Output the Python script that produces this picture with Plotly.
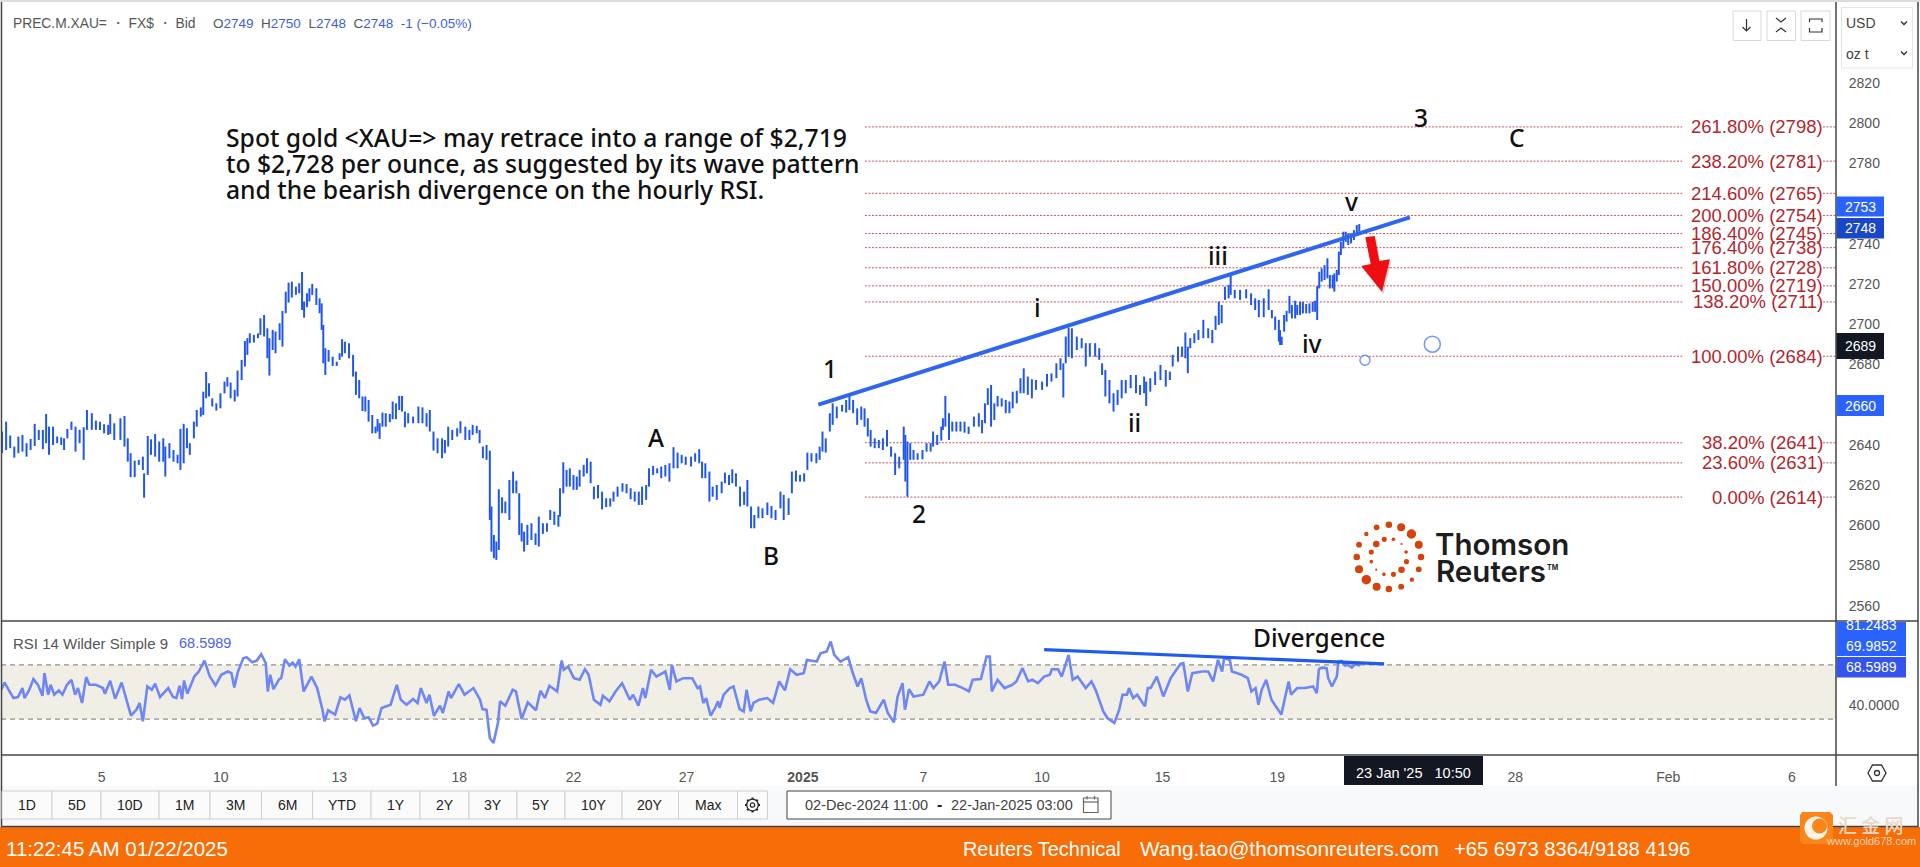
import plotly.graph_objects as go

W, H = 1920, 867

# ---------- DATA ----------
# time unit: 15-minute slots of the trading calendar
bar_slot = [5,15,25,35,45,55,65,75,85,95,105,113,120,130,140,150,157,165,175,185,195,205,213,225,235,245,255,265,270,280,295,305,313,320,330,340,350,353,362,370,380,390,400,405,415,425,435,442,450,458,465,475,482,492,498,505,512,520,530,540,550,557,565,575,582,592,600,606,612,622,632,638,647,655,660,668,675,685,692,700,707,715,725,733,740,745,752,758,765,775,783,788,792,797,805,815,825,832,838,845,855,865,872,880,888,895,903,912,920,925,930,937,945,955,962,970,978,985,992,1000,1012,1025,1035,1045,1053,1062,1072,1083,1090,1098,1108,1120,1128,1140,1150,1158,1168,1175,1183,1192,1200,1204,1210,1216,1222,1230,1238,1248,1257,1265,1272,1278,1284,1292,1302,1312,1320,1330,1340,1348,1358,1368,1372,1380,1388,1396,1405,1413,1420,1430,1438,1447,1455,1465,1475,1485,1495,1503,1513,1525,1535,1545,1555,1565,
1573,1583,1590,1600,1610,1620,1630,1640,1650,1660,1670,1680,1693,1703,1713,1720,1728,1738,1746,1756,1768,1776,1786,1794,1803,1813,1823,1831,1840,1848,1858,1868,1880,1890,1900,1912,1920,1932,1940,1950,1960,1970,1978,1988,2000,2008,2015,2023,2033,2040,2050,2063,2073,2081,2090,2100,2110,2118,2126,2133,2143,2153,2163,2173,2183,2193,2203,2214,2218,2223,2230,2238,2248,2260,2270,2280,2286,2296,2306,2310,2316,2325,2333,2343,2353,2363,2373,2386,2398,2406,2413,2420,2428,2436,2444,2454,2464,2473,2481,2491,2500,2508,2518,2528,2538,2553,2565,2576,2588,2598,2605,2611,2618,2626,2638,2650,2660,2670,2683,2693,2700,2708,2718,2728,2738,2748,2758,2770,2783,2793,2803,2808,2818,2830,2843,2856,2866,2873,2886,2896,2904,2910,2916,2926,2936,2948,2960,2970,2978,2986,2993,3001,3010,3015,3025,3038,3053,3065,3075,3084,3096,3108,3116,3124,3133,
3136,3140,3146,3152,3159,3165,3173,3178,3185,3192,3200,3208,3216,3222,3227,3232,3238,3245,3252,3258,3265,3269,3275,3280,3285,3291,3297,3303,3310,3317,3324,3330]

bar_high = [2646.6,2651.5,2644.6,2639.1,2644.1,2644.9,2640.8,2642.9,2650.4,2647.4,2647.4,2655.3,2649,2649,2644.1,2643.7,2643.2,2647.9,2651.5,2649,2647.4,2648.7,2657.3,2655.7,2652,2651.5,2650.2,2649.9,2655.3,2650.7,2653.2,2654.3,2643.2,2635.8,2632.1,2632.5,2634.1,2625.8,2644.4,2642.7,2645.4,2641.6,2643.2,2639.1,2640.8,2637.4,2635,2647.9,2650.4,2648.2,2640.8,2651.5,2657.3,2658.6,2666.4,2676.2,2670.6,2663.1,2660.6,2665.6,2671.4,2673.6,2670.9,2667.3,2676.9,2682.2,2691.6,2693,2695.4,2694.6,2695.4,2702.9,2704.5,2697.9,2693,2697.1,2696.3,2700.4,2706.5,2716.1,2720.6,2721.1,2718.6,2720.3,2725.9,2711.2,2715.3,2717.8,2720,2717.8,2712.8,2710.3,2699.6,2688,2687.1,2683.8,2681.3,2685.5,2692.5,2691.3,2690.5,2684.7,2676.4,2672.2,2664,2664,2662.3,2654.8,2649,2652.8,2650.7,2656,2655.7,2655.3,2661.5,2660.6,2664.3,2664.3,2656.5,2655.7,2654,2659,2658.6,2655.7,2657.3,2646.6,2643.2,2643.2,2642.4,2649,2647.4,2648.2,2651.7,2649,2647.4,2649.9,2649.4,2647.4,2639.1,2639.9,2637.1,2609.3,2595.2,2591.9,2617.9,2613.9,2611.8,2622.5,2626.7,2622.2,2615.9,2601,2596.8,2600.2,2601,2596,2604.3,2601,2601,2607.6,2606.8,2605.1,2618.4,2631.3,2627.5,2628.3,2625,2624.2,2627.5,2630,2633.3,2631.6,2619.2,2620,2616.7,2613.4,2613.4,2616.7,2619.2,2620.9,2620.5,2618.4,2616.7,2616.7,
2619.2,2620,2628.3,2629.5,2628.3,2629.2,2630,2630.8,2638.8,2636.1,2635,2634.1,2634.1,2635.8,2637.8,2631.6,2630.8,2626.7,2619.2,2620,2621.7,2626.2,2625,2627.8,2625.8,2619.2,2616.7,2622.5,2609.3,2605.1,2609.3,2608.4,2611.3,2609.6,2607.6,2616.7,2615.1,2613.4,2626.7,2627.2,2625,2625.8,2636.1,2635.8,2635.8,2639.1,2646.6,2643.2,2655.7,2660.6,2659,2659.8,2662.3,2664.8,2662.3,2658.1,2659,2658.1,2653.2,2647.4,2643.2,2642.4,2643.2,2647.4,2639.1,2635.8,2634.1,2649,2644.9,2641.6,2640.8,2637.4,2635.8,2637.4,2640.8,2640.8,2646.6,2644.9,2649,2653.2,2664.3,2655.7,2651.5,2651.5,2651.5,2651.5,2649,2654,2655.7,2652.3,2660.6,2668.1,2669.7,2660.6,2664.3,2663.1,2662.3,2661.5,2666.4,2666.8,2673.1,2678,2673.9,2672.6,2672.2,2671.4,2675.2,2675.5,2680.5,2683,2680.5,2693.8,2698.2,2697.9,2693.8,2693,2690.5,2690.5,2690.5,2688,2680.5,2677.2,2672.2,2665.6,2667.3,2672.2,2672.2,2674.7,2674.7,2669.7,2673.9,2671.4,2673.1,2676.4,2679.7,2677.2,2676.4,2684.7,2688.8,2688.8,2695.8,2688.8,2693,2695.4,2697.1,2702.1,2697.9,2697.1,2704.1,2711.2,2709.5,2718.6,2719.5,2725.3,2717,2717,2717.3,2715.3,2712.8,2712,2712.8,2717.3,2707,2703.7,2702.1,
2697,2693.7,2704.5,2706.6,2714,2709.5,2711.6,2709.5,2711.1,2711.1,2710,2710.3,2711.1,2711.6,2718.9,2726,2727.7,2729.3,2732.7,2724.4,2724.4,2725.2,2726.9,2736,2740.9,2745.9,2745.9,2745.1,2745.1,2746.7,2749.2,2749.7]

bar_low = [2635.8,2637.4,2638.3,2633.6,2635.8,2636.6,2634.1,2637.4,2639.4,2642.4,2637.8,2640.8,2635,2639.9,2640.8,2639.9,2637.4,2643.2,2647.4,2636.6,2640.8,2632.5,2647.4,2647.4,2647.4,2647.4,2645.7,2644.9,2645.4,2642.4,2642.4,2639.1,2631.6,2623.9,2623.9,2630,2627.5,2613.7,2625,2635,2634.1,2631.6,2631.6,2624.2,2633.3,2631.6,2630.8,2627.5,2630.8,2638.3,2635,2643.2,2649,2654,2654.8,2663.1,2664,2659,2657,2658.1,2665.6,2668.9,2663.1,2661.5,2664,2672.2,2678.9,2684.7,2690.5,2690.8,2693,2694.6,2693.8,2683,2674.4,2687.1,2685.5,2692.1,2688.8,2705.4,2710.7,2713.2,2714.5,2715.3,2707,2703.2,2708.4,2711.2,2714.5,2709.5,2705.4,2697.1,2680.5,2674.7,2681.3,2679.2,2679.2,2682.2,2683.8,2685.5,2683,2673.9,2664.8,2663.1,2656.8,2656.5,2651.5,2645.7,2645.7,2646.6,2642.9,2649,2649,2651.2,2652.7,2652.7,2657.3,2656.5,2648.7,2650.7,2650.7,2650.7,2650.7,2649,2646.6,2637.1,2635.8,2633.3,2635.8,2639.1,2642.4,2644.1,2645.7,2642.4,2642.4,2644.9,2645.7,2640.8,2633.3,2632.5,2602.6,2586.9,2583.6,2582.8,2587.7,2606,2606,2602.6,2615.9,2615.9,2595.2,2591.9,2586.9,2590.2,2592.7,2590.2,2589.4,2595.7,2596.8,2602.6,2600.2,2599.3,2604.3,2615.9,2619.2,2619.2,2617.6,2617.6,2619.2,2624.2,2625.8,2620.9,2612.9,2613.4,2607.9,2609,2609.3,2611.8,2614.2,2616.7,2615.9,2612.9,2611.8,2610.1,
2610.1,2612.6,2619.2,2625,2625.8,2623.4,2624.2,2621.7,2628.3,2628.3,2630.8,2630,2629.2,2631.6,2630.8,2623.4,2623.4,2611.8,2614.2,2612.6,2615.9,2620.9,2620,2620.9,2619.2,2609.3,2610.1,2609.3,2598.5,2598.5,2603.5,2603.5,2605.1,2603.5,2602.6,2608.4,2602.6,2605.1,2615.9,2621.7,2621.7,2621.7,2627.5,2631.6,2630.8,2632.5,2636.6,2636.1,2646.6,2649.9,2653.2,2656.5,2656,2657.3,2655.7,2649.9,2652.4,2649,2644.1,2639.1,2638.3,2638.3,2637.4,2639.1,2634.1,2625,2628.3,2632.5,2621.7,2614.2,2632.5,2632.5,2632.5,2632.8,2636.6,2636.6,2639.1,2639.9,2642.1,2647.4,2649,2642.4,2646.6,2646.6,2646.6,2646,2645.4,2649,2649,2645.7,2650.7,2659.8,2649,2652.3,2659,2659,2655.7,2655.7,2658.1,2660.6,2665.6,2665.6,2664.8,2663.1,2667.3,2667.3,2668.9,2671.4,2673.1,2677.2,2663.5,2680.5,2683.8,2683,2687.1,2688,2678.9,2683.8,2683.8,2682.2,2674.7,2664,2660.6,2656.5,2659.8,2663.1,2665.6,2668.1,2665.6,2664.8,2665.6,2659.3,2666.4,2669.7,2672.2,2668.9,2672.2,2678.9,2681.3,2683.8,2683,2675.6,2688,2690.5,2692.1,2693,2693,2690.5,2697.1,2699.6,2700.4,2712,2712.8,2714.5,2712.8,2712,2712.8,2709.5,2707,2703.4,2703.4,2707,2702.9,2697.1,2691.3,
2689.6,2689.6,2696.2,2701.2,2705.3,2702.8,2702.8,2704.5,2704.5,2705.3,2705.3,2705.3,2706.1,2706.1,2702,2717.7,2721.1,2721.9,2722.7,2717.7,2717.7,2716.1,2721.1,2724.4,2734.3,2737.6,2740.9,2739.3,2740.1,2741.8,2744.3,2745.9]

rsi_slot = [3,11,22,33,44,55,60,71,82,93,104,109,118,124,133,144,153,164,175,184,191,201,211,219,235,252,257,270,282,298,312,321,334,342,350,361,372,380,392,399,412,424,432,440,446,451,459,476,487,501,514,528,542,558,567,574,583,596,604,618,629,640,651,656,662,670,684,689,698,709,717,724,733,744,763,777,790,795,804,821,834,845,856,872,881,892,903,914,924,935,957,972,982,996,1012,1023,1031,1045,1052,1063,1078,1085,1099,1105,1124,1138,1160,1176,1182,1192,1200,1209,1220,1225,1238,1256,1264,1278,1293,1313,1324,1335,1346,1365,1376,1381,1392,1406,1420,1433,1442,1455,1471,1477,1493,1508,1524,1543,1551,1564,1575,1581,1595,1608,1630,1641,1646,1657,1674,1696,1709,
1715,1723,1730,1741,1752,1759,1763,1773,1788,1797,1812,1822,1829,1839,1846,1860,1880,1894,1909,1923,1936,1952,1969,1977,2001,2010,2025,2035,2044,2059,2078,2088,2101,2110,2122,2132,2146,2165,2175,2190,2199,2211,2217,2227,2238,2262,2277,2287,2301,2314,2323,2340,2359,2374,2383,2403,2417,2425,2430,2444,2461,2480,2490,2505,2519,2529,2543,2558,2572,2577,2592,2601,2618,2628,2640,2660,2674,2684,2703,2713,2730,2742,2750,2761,2766,2776,2786,2795,2805,2812,2819,2834,2850,2868,2892,2899,2910,2921,2945,2960,2972,2984,2994,2999,3013,3018,3042,3057,3066,3076,3083,3091,3102,3115,3139,3157,3163,3178,3197,3217,3226,3231,
3234,3241,3250,3254,3263,3275,3279,3287,3295,3303,3312,3320,3332]

rsi_value = [51.6,57,51.2,45.5,46.3,52.9,45.5,51.2,59.5,55.3,47.2,63.9,48,55.3,48,51.2,48,55.3,59,48,52.9,41.9,61,55.3,55.3,52.9,48.7,58.3,45,57,41.9,32.5,36.9,41.9,28.4,54.1,51.6,56.1,46.3,48.7,52.9,46.3,45.5,54.6,44.8,58.5,48.7,61.4,65.1,73.2,61.4,54.8,62.7,65.1,63.9,53.4,65.1,74.9,75.7,72,73.2,77.9,71.3,50.4,62.7,52.1,59.5,60.2,74.2,69.5,71.7,68.8,74.2,50.4,61.4,52.9,36.9,28.4,36.5,33.3,46,44.3,47.5,28.4,38.2,30.8,31.3,25.2,26.7,38.2,40.6,55.3,44.3,40.6,44.8,41.9,52.9,41.9,48,32.5,39.9,34.5,50.4,45.5,55.8,48,52.9,44.3,37.4,36.9,16.1,12.4,27.2,43.1,39.9,51.6,50.4,30.1,42.3,36.5,50.9,45.5,54.6,50.4,73.2,66.4,68.8,60.2,59,66.8,62.7,44.3,40.6,47.2,43.1,50.4,56.5,44.3,48,39.9,52.9,45.5,66.4,61.4,65.1,51.6,70,57.8,60.2,60.2,52.9,
54.1,41.9,45.5,32.5,38.2,43.1,38.2,48,52.9,54.1,37.4,35.7,51.6,35.7,41.9,44.3,45.5,41.9,57.8,51.2,66.8,62.7,63.9,73.7,72.5,78.6,79.8,87.2,77.4,72.5,75.7,65.1,54.1,60.2,44.3,35.7,34.5,44.3,34.5,27.6,46.7,56.5,36.9,52.1,46.7,48,57.8,52.9,57.8,72.5,55.3,55.3,52.9,50.4,59,59.5,76.1,76.1,50.4,59,52.9,55.3,57.8,67.6,57.8,59,56.5,61.4,62.7,66.8,66.8,61.4,77.4,59,61.4,52.9,57.8,51.6,35.7,30.8,27.2,36.9,48,48,52.9,45.5,48,44.3,39.4,52.9,52.9,61.4,46.7,60.2,70.8,71.3,50.4,63.9,65.1,65.1,57.8,73.7,65.1,74.9,73.7,65.1,62.7,60.2,50.4,52.9,40.6,51.6,59,44.3,33.3,57.8,48,52.9,52.9,54.1,49.2,66.4,
67.6,68,67.6,60.2,54.1,61.4,72.5,72.9,69.5,70,68,70.5,69.5]

fib_pct = ["261.80%","238.20%","214.60%","200.00%","186.40%","176.40%","161.80%","150.00%","138.20%","100.00%","38.20%","23.60%","0.00%"]
fib_price = [2798,2781,2765,2754,2745,2738,2728,2719,2711,2684,2641,2631,2614]

price_ticks = [2820,2800,2780,2760,2740,2720,2700,2680,2660,2640,2620,2600,2580,2560]
x_tick_slots = [249,541,831,1125,1405,1682,1967,2262,2553,2848,3129,3712,4087,4390]
x_tick_text = ["5","10","13","18","22","27","<b>2025</b>","7","10","15","19","28","Feb","6"]

trend_slot, trend_price = [2005,3454],[2660,2753]
div_slot, div_rsi = [2558,3391],[81.25,70.7]
circle_slot, circle_price, circle_size = [3344,3509],[2682,2690],[10,16]

range_buttons = ["1D","5D","10D","1M","3M","6M","YTD","1Y","2Y","3Y","5Y","10Y","20Y","Max"]

# wave labels: text, x px, y px
wave_labels = [("1",830,368),("2",919,513),("A",656,437),("B",771,555),("i",1037,308),("ii",1134,423),
               ("iii",1218,255),("iv",1312,343),("v",1351,201),("3",1421,117),("C",1517,137),("Divergence",1319,637)]

# ---------- helpers ----------
PX, PY = lambda x: x/W, lambda y: 1-y/H
shapes, ann = [], []
def rect(x0,y0,x1,y1,fill=None,line=None,lw=1,layer="above"):
    shapes.append(dict(type="rect",xref="paper",yref="paper",x0=PX(x0),x1=PX(x1),y0=PY(y0),y1=PY(y1),
        fillcolor=fill or "rgba(0,0,0,0)",line=dict(color=line or "rgba(0,0,0,0)",width=lw if line else 0),layer=layer))
def hline(x0,y0,x1,y1,color="#444",lw=1):
    shapes.append(dict(type="line",xref="paper",yref="paper",x0=PX(x0),x1=PX(x1),y0=PY(y0),y1=PY(y1),line=dict(color=color,width=lw),layer="above"))
def poly(pts,fill=None,line=None,lw=1,close=False,opacity=1):
    d="M"+" L".join(f"{PX(x):.5f},{PY(y):.5f}" for x,y in pts)+(" Z" if close else "")
    shapes.append(dict(type="path",xref="paper",yref="paper",path=d,fillcolor=fill or "rgba(0,0,0,0)",opacity=opacity,
        line=dict(color=line or "rgba(0,0,0,0)",width=lw if line else 0),layer="above"))
def circ(cx,cy,r,fill=None,line=None,lw=1):
    shapes.append(dict(type="circle",xref="paper",yref="paper",x0=PX(cx-r),x1=PX(cx+r),y0=PY(cy-r),y1=PY(cy+r),
        fillcolor=fill or "rgba(0,0,0,0)",line=dict(color=line or "rgba(0,0,0,0)",width=lw if line else 0),layer="above"))
def T(x,y,s,size=14,color="#555",anchor="left",font="Liberation Sans",weight=None):
    f=dict(size=size,color=color,family=font)
    if weight: f["weight"]=weight
    ann.append(dict(xref="paper",yref="paper",x=PX(x),y=PY(y),text=s,showarrow=False,xanchor=anchor,yanchor="middle",font=f,borderpad=0,borderwidth=0))

fig = go.Figure()
# price bars
bx,by=[],[]
for s,h,l in zip(bar_slot,bar_high,bar_low):
    bx+=[s,s,None]; by+=[h,l,None]
fig.add_trace(go.Scatter(x=bx,y=by,mode="lines",line=dict(color="#2156ee",width=2),xaxis="x",yaxis="y",hoverinfo="skip"))
fig.add_trace(go.Scatter(x=trend_slot,y=trend_price,mode="lines",line=dict(color="#2f66f0",width=4),xaxis="x",yaxis="y",hoverinfo="skip"))
fig.add_trace(go.Scatter(x=circle_slot,y=circle_price,mode="markers",marker=dict(size=circle_size,color="white",line=dict(color="#3d6fe8",width=1.5)),xaxis="x",yaxis="y",hoverinfo="skip"))
# RSI
fig.add_trace(go.Scatter(x=rsi_slot,y=rsi_value,mode="lines",line=dict(color="#6f87f5",width=2.6),xaxis="x2",yaxis="y2",hoverinfo="skip"))
fig.add_trace(go.Scatter(x=div_slot,y=div_rsi,mode="lines",line=dict(color="#1e5bee",width=3.2),xaxis="x2",yaxis="y2",hoverinfo="skip"))

# fib levels
FIB = "#c8555e"
for pct,pr in zip(fib_pct,fib_price):
    for a,b in ((2119,4121),(4466,4498)):
        shapes.append(dict(type="line",xref="x",yref="y",x0=a,x1=b,y0=pr,y1=pr,line=dict(color=FIB,width=1,dash="2px,1.5px"),layer="below"))
    ann.append(dict(xref="paper",yref="y",x=PX(1823.5),y=pr,text=f"{pct} ({pr})",showarrow=False,xanchor="right",yanchor="middle",
                    font=dict(size=18.5,color="#b3262e",family="Liberation Sans"),borderpad=0))

# RSI band
shapes.append(dict(type="rect",xref="x2",yref="y2",x0=2.45,x1=4498,y0=30,y1=70,fillcolor="#f1eee5",line=dict(width=0),layer="below"))
for v in (30,70):
    shapes.append(dict(type="line",xref="x2",yref="y2",x0=2.45,x1=4498,y0=v,y1=v,line=dict(color="#777",width=1,dash="5px,4px"),layer="below"))

# frame + toolbars
rect(0,786,1917,826,fill="#f8f9fa",layer="below")
rect(0,0,1920,2,fill="#dcdcdc")
rect(0,827,1920,867,fill="#f76d07")
hline(1.5,2,1.5,827,lw=1.5); hline(1918,2,1918,827,lw=1.5)
hline(1836,2,1836,786,lw=1.5)
hline(1,621,1918,621,lw=1.5); hline(1,755,1918,755,lw=1.5); hline(1,826.5,1918,826.5,lw=1.5)

# header
T(13,23,"PREC.M.XAU= ・ FX$ ・ Bid",13.8)
B="#3f5fd8"
T(212.5,23,f'O<span style="color:{B}">2749</span>  H<span style="color:{B}">2750</span>  L<span style="color:{B}">2748</span>  C<span style="color:{B}">2748</span>  <span style="color:{B}">-1 (−0.05%)</span>',13.5)

# top right controls
for a,b in ((1733,1761),(1767,1795.5),(1801,1830)):
    shapes.append(dict(type="rect",xref="paper",yref="paper",x0=PX(a),x1=PX(b),y0=PY(11),y1=PY(40.5),line=dict(color="#d5d8df",width=1),fillcolor="white",layer="above"))
rect(1841.5,7.5,1912.5,68,fill="white",line="#e3e5ea")
poly([(1746.5,19),(1746.5,31)],line="#333",lw=1.2); poly([(1742.5,27),(1746.5,31),(1750.5,27)],line="#333",lw=1.2)
poly([(1776,18),(1781,22),(1786,18)],line="#333",lw=1.2); poly([(1776,32),(1781,28),(1786,32)],line="#333",lw=1.2)
poly([(1809.5,22),(1809.5,19),(1822,19),(1822,22)],line="#333",lw=1.2); poly([(1809.5,28),(1809.5,32),(1822,32),(1822,28)],line="#333",lw=1.2)
T(1846,23,"USD",14,"#444"); T(1846,54,"oz t",14,"#444")
for y in (23,53):
    poly([(1901,y-1.5),(1904,y+1.5),(1907,y-1.5)],line="#333",lw=1.4)

# main note
for s,y in (("Spot gold &lt;XAU=&gt; may retrace into a range of $2,719",137),
            ("to $2,728 per ounce, as suggested by its wave pattern",163),
            ("and the bearish divergence on the hourly RSI.",190)):
    T(226,y,s,24.7,"#111",font="Noto Sans",weight=500)

for s,x,y in wave_labels:
    T(x,y,s,24.5,"#111",anchor="center",font="Noto Sans",weight=500)

# red arrow
arrow=[(1365.3,237.3),(1374.7,236),(1379.3,261),(1390,259.3),(1382,291.7),(1361.3,266),(1370.7,264)]
poly([(x+1.5,y+2.5) for x,y in arrow],fill="#555",close=True,opacity=.25)
poly(arrow,fill="#ef0d12",close=True)

# price tags
def tag(y0,y1,s,fill,x1=1884,size=14):
    rect(1836.5,y0,x1,y1,fill=fill)
    T(1860 if x1==1884 else 1871,(y0+y1)/2,s,size,"white",anchor="center")
tag(196.5,216.5,"2753","#2962ff"); tag(218,238.5,"2748","#1a47c8"); tag(333,359,"2689","#131722"); tag(395,416,"2660","#2962ff")
rect(1836.5,622,1906,656,fill="#2962ff")
T(1871,625,"81.2483",14,"white",anchor="center"); T(1871,645.5,"69.9852",14,"white",anchor="center")
tag(657,677.5,"68.5989","#3355ee",x1=1906)

# RSI caption
T(13,643,"RSI 14 Wilder Simple 9",15); T(179,643,"68.5989",14.5,"#4a63ee")

# crosshair date
rect(1344,756,1483,785,fill="#131722")
T(1413.5,772.5,"23 Jan '25   10:50",14.5,"white",anchor="center")

# settings hexagon
cx,cy=1877,773
poly([(cx-9,cy),(cx-4.5,cy-8),(cx+4.5,cy-8),(cx+9,cy),(cx+4.5,cy+8),(cx-4.5,cy+8)],line="#333",lw=1.3,close=True)
circ(cx,cy,2.5,line="#333",lw=1.3)

# range buttons
edges=[2,52,101,159,210,261.5,312.5,371,420,469,517,565,622,678.5,737.5]
for i,lab in enumerate(range_buttons):
    rect(edges[i],791,edges[i+1],819,fill="#fbfbfb",line="#cfcfcf")
    T((edges[i]+edges[i+1])/2,805,lab,14,"#222",anchor="center")
rect(737.5,791,767.5,819,fill="#fbfbfb",line="#cfcfcf")
# gear outline
gx,gy=752.5,805
for dx,dy in ((0,-7.5),(5.3,-5.3),(7.5,0),(5.3,5.3),(0,7.5),(-5.3,5.3),(-7.5,0),(-5.3,-5.3)):
    hline(gx+dx*.75,gy+dy*.75,gx+dx,gy+dy,"#222",2)
circ(gx,gy,5.8,fill="#fbfbfb",line="#222",lw=1.3); circ(gx,gy,2.2,line="#222",lw=1.2)
rect(787,791,1111,819,fill="white",line="#444")
T(804.5,805,"02-Dec-2024 11:00",14.5,"#444"); T(939,804,"-",16,"#222",anchor="center",weight=700); T(950.5,805,"22-Jan-2025 03:00",14.5,"#444")
rect(1083.5,798,1098,812.5,line="#666",lw=1.2); hline(1083.5,802,1098,802,"#666",1.2)
hline(1087,796,1087,799.5,"#666",1.2); hline(1094.5,796,1094.5,799.5,"#666",1.2)

# orange strip
T(6,848,"11:22:45 AM 01/22/2025",20.5,"white")
T(963,848.5,"Reuters Technical",19.9,"white")
T(1140,848.5,"Wang.tao@thomsonreuters.com",20.8,"white")
T(1454,848.5,"+65 6973 8364/9188 4196",20.2,"white")

# logo
logo_dots=[(180,74,9),(212,82,11),(239,102,13),(258,134,11),(264,171,9),(258,208,8),(240,239,6),(212,260,8),(180,267,9),(148,260,11),(121,239,13),(102,208,11),(96,171,9),(102,134,8),(121,102,6),(148,82,8),
           (192,118,5),(213,132,3),(225,156,5),(226,185,7),(213,209,9),(192,223,7),(167,223,5),(147,209,3),(134,185,5),(134,156,7),(147,132,9),(168,118,7)]
for x,y,r in logo_dots:
    circ(1320+x/2.613,500+y/3,r/2.75,fill="#d5420a")
T(1435,544,"Thomson",29.5,"#1d1d1d",font="Inter",weight=600)
T(1436,570.5,"Reuters",29.5,"#1d1d1d",font="Inter",weight=600)
T(1547,567,"TM",7,"#1d1d1d",font="Inter",weight=700)

# watermark
shapes.append(dict(type="path",xref="paper",yref="paper",line=dict(width=0),fillcolor="#f9861a",layer="above",
    path=" ".join([f"M{PX(1802):.5f},{PY(812):.5f}",f"L{PX(1830):.5f},{PY(812):.5f}",f"L{PX(1833):.5f},{PY(815):.5f}",f"L{PX(1833):.5f},{PY(841):.5f}",
                   f"L{PX(1830):.5f},{PY(844):.5f}",f"L{PX(1803):.5f},{PY(844):.5f}",f"L{PX(1800):.5f},{PY(841):.5f}",f"L{PX(1800):.5f},{PY(815):.5f}","Z"])))
circ(1816,828,11.5,fill="#fdf3e8"); circ(1819.5,826,7.5,fill="#f9861a")
T(1871,824,"汇 金 网",19,"#ead8c6",anchor="center",font="Noto Sans CJK SC",weight=500)
T(1870.5,841,"www.gold678.com",11,"#f6d3b3",anchor="center")

axfont=dict(family="Liberation Sans",size=14,color="#555")
fig.update_layout(width=W,height=H,margin=dict(l=0,r=0,t=0,b=0),paper_bgcolor="white",plot_bgcolor="rgba(0,0,0,0)",showlegend=False,
    shapes=shapes,annotations=ann,
    xaxis=dict(domain=[1/W,1836/W],range=[2.45,4498],showgrid=False,zeroline=False,showticklabels=False,ticks="",anchor="y",fixedrange=True),
    yaxis=dict(domain=[1-621/H,1-2/H],range=[2552.4,2860.1],side="right",anchor="x",showgrid=False,zeroline=False,tickmode="array",tickvals=price_ticks,ticktext=[str(v) for v in price_ticks],
               ticks="outside",ticklen=9,tickcolor="rgba(0,0,0,0)",tickfont=axfont,fixedrange=True),
    xaxis2=dict(domain=[1/W,1836/W],range=[2.45,4498],showgrid=False,zeroline=False,anchor="y2",tickmode="array",tickvals=x_tick_slots,ticktext=x_tick_text,
                ticks="outside",ticklen=9,tickcolor="rgba(0,0,0,0)",tickfont=axfont,fixedrange=True),
    yaxis2=dict(domain=[1-755/H,1-621/H],range=[3.5,102.4],side="right",anchor="x2",showgrid=False,zeroline=False,tickmode="array",tickvals=[40],ticktext=["40.0000"],
                ticks="outside",ticklen=9,tickcolor="rgba(0,0,0,0)",tickfont=axfont,fixedrange=True))

fig.write_html("out.html",config=dict(displayModeBar=False,staticPlot=True),
               post_script="document.body.style.margin='0';document.body.style.overflow='hidden';")
